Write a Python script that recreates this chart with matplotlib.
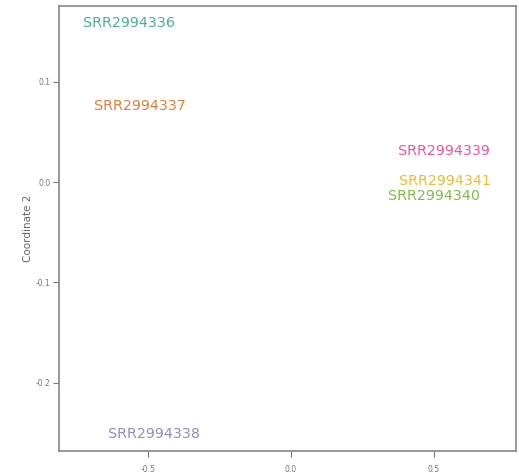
import matplotlib
matplotlib.use("Agg")
import matplotlib.pyplot as plt

# MDS coordinates of each sample
samples = ["SRR2994336", "SRR2994337", "SRR2994338",
           "SRR2994339", "SRR2994340", "SRR2994341"]
coord1 = [-0.569, -0.531, -0.481, 0.536, 0.501, 0.541]
coord2 = [0.1588, 0.0754, -0.251, 0.0305, -0.0137, 0.0006]
colors = ["#1b9e77", "#d95f02", "#7570b3", "#e7298a", "#66a61e", "#e6ab02"]

xticks = [-0.5, 0.0, 0.5]
yticks = [-0.2, -0.1, 0.0, 0.1]

fig = plt.figure(figsize=(5.19, 4.74), dpi=100)
ax = fig.add_axes([59 / 519, 1 - 451 / 474, (516 - 59) / 519, (451 - 6) / 474])

for name, x, y, c in zip(samples, coord1, coord2, colors):
	ax.text(x, y, name, color=c, alpha=0.8, fontsize=10.3,
		ha="center", va="center")

ax.set_xlim(-0.813, 0.789)
ax.set_ylim(-0.268, 0.1755)
ax.set_xticks(xticks)
ax.set_yticks(yticks)
ax.set_xticklabels(["%.1f" % t for t in xticks])
ax.set_yticklabels(["%.1f" % t for t in yticks])
ax.tick_params(labelsize=5.5, colors="#777777", length=4, width=0.8)
ax.tick_params(axis="x", pad=6)
ax.tick_params(axis="y", pad=2)
ax.set_ylabel("Coordinate 2", fontsize=7.5, color="#666666", labelpad=2)
for sp in ax.spines.values():
	sp.set_color("#888888")
	sp.set_linewidth(1.2)

fig.savefig("out.png", dpi=100)
